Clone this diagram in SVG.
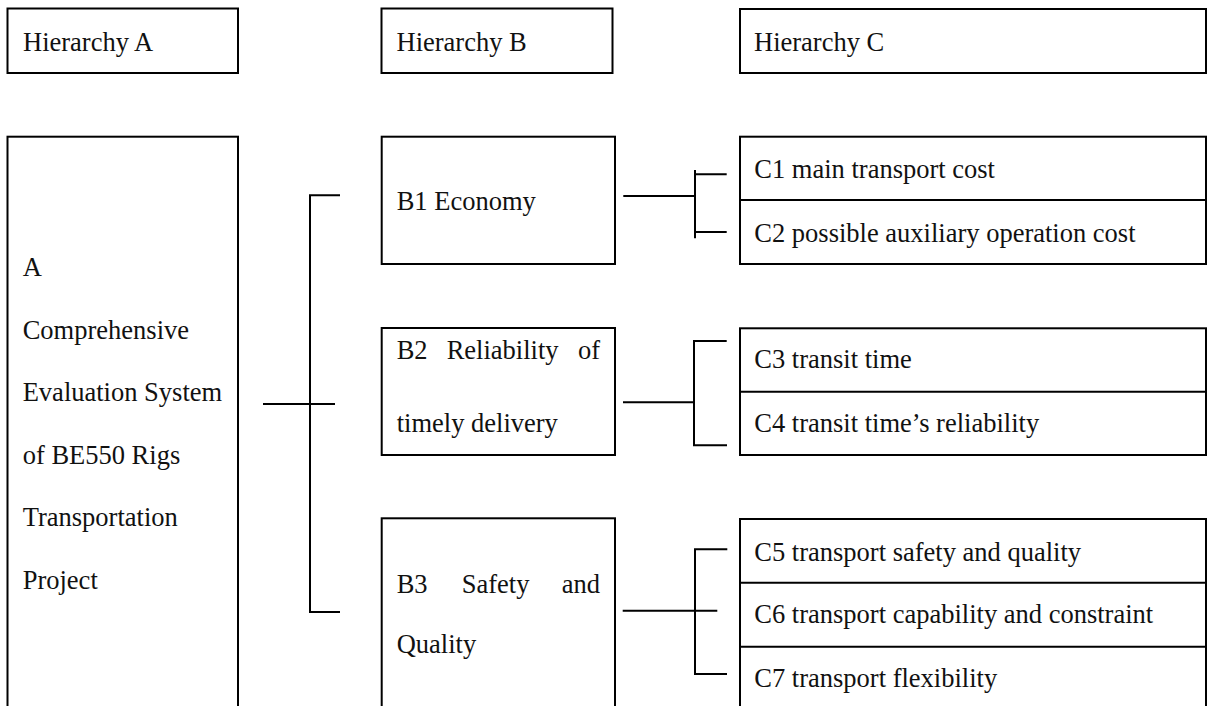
<svg xmlns="http://www.w3.org/2000/svg" width="1208" height="706" viewBox="0 0 1208 706">
<style>
.box{fill:#fff;stroke:#000;stroke-width:2}
.div{stroke:#000;stroke-width:2}
.con{stroke:#000;stroke-width:2;fill:none}
text{font-family:"Liberation Serif","Times New Roman",serif;font-size:26.5px;fill:#111}
</style>
<rect width="1208" height="706" fill="#fff"/>
<g id="hierA"><rect class="box" x="7.5" y="8.5" width="230.5" height="64.5"/><text x="23" y="50.5">Hierarchy A</text></g>
<g id="hierB"><rect class="box" x="381.5" y="8.5" width="231" height="64.5"/><text x="396.5" y="50.5">Hierarchy B</text></g>
<g id="hierC"><rect class="box" x="740" y="9" width="466" height="64"/><text x="754" y="50.5">Hierarchy C</text></g>
<g id="A"><rect class="box" x="7.5" y="136.7" width="230.5" height="600"/>
<text x="22.7" y="276">A</text>
<text x="22.7" y="338.6">Comprehensive</text>
<text x="22.7" y="401.2">Evaluation System</text>
<text x="22.7" y="463.8">of BE550 Rigs</text>
<text x="22.7" y="526.4">Transportation</text>
<text x="22.7" y="589">Project</text></g>
<g id="B1"><rect class="box" x="381.7" y="136.7" width="233.3" height="127.3"/><text x="396.7" y="209.5">B1 Economy</text></g>
<g id="B2"><rect class="box" x="381.7" y="328" width="233.3" height="127"/>
<text x="396.7" y="359.3">B2</text><text x="446.7" y="359.3">Reliability</text><text x="600" y="359.3" text-anchor="end">of</text>
<text x="396.7" y="432">timely delivery</text></g>
<g id="B3"><rect class="box" x="381.7" y="518.3" width="233.3" height="220"/>
<text x="396.7" y="592.7">B3</text><text x="461.7" y="592.7">Safety</text><text x="600" y="592.7" text-anchor="end">and</text>
<text x="396.7" y="653">Quality</text></g>
<g id="C1C2"><rect class="box" x="740" y="136.7" width="466" height="127.3"/><line class="div" x1="740" y1="200" x2="1206" y2="200"/>
<text x="754.3" y="178.3">C1 main transport cost</text>
<text x="754.3" y="241.7">C2 possible auxiliary operation cost</text></g>
<g id="C3C4"><rect class="box" x="740" y="328.3" width="466" height="126.7"/><line class="div" x1="740" y1="391.7" x2="1206" y2="391.7"/>
<text x="754.3" y="368.3">C3 transit time</text>
<text x="754.3" y="432.3">C4 transit time’s reliability</text></g>
<g id="C5C7"><rect class="box" x="740" y="519" width="466" height="220"/><line class="div" x1="740" y1="582.7" x2="1206" y2="582.7"/><line class="div" x1="740" y1="646.7" x2="1206" y2="646.7"/>
<text x="754.3" y="561">C5 transport safety and quality</text>
<text x="754.3" y="622.7">C6 transport capability and constraint</text>
<text x="754.3" y="686.7">C7 transport flexibility</text></g>
<g id="connectors">
<path class="con" d="M263 404H335M340 195.3H310V612H340"/>
<path class="con" d="M623.3 196H695M695 170V238.3M695 174.3H726.7M695 232H726.7"/>
<path class="con" d="M623 402.3H694M726.7 341H694V445.3H727"/>
<path class="con" d="M622.7 610.7H717.3M727.3 549.3H695V674H727"/>
</g>
</svg>
